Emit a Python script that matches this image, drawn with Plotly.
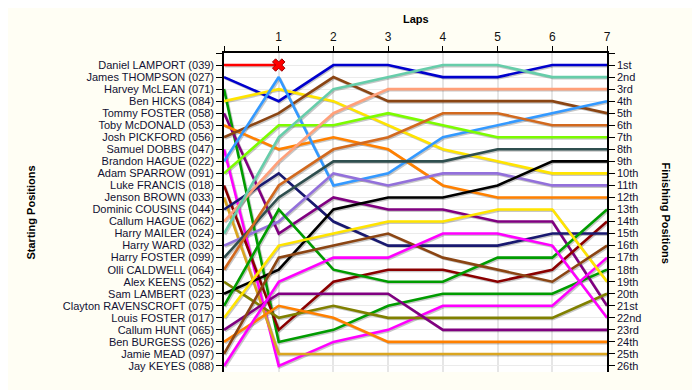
import plotly.graph_objects as go

laps = [0, 1, 2, 3, 4, 5, 6, 7]
lap_labels = ["", "1", "2", "3", "4", "5", "6", "7"]

drivers = [
    "Daniel LAMPORT (039)", "James THOMPSON (027)", "Harvey McLEAN (071)", "Ben HICKS (084)",
    "Tommy FOSTER (058)", "Toby McDONALD (053)", "Josh PICKFORD (056)", "Samuel DOBBS (047)",
    "Brandon HAGUE (022)", "Adam SPARROW (091)", "Luke FRANCIS (018)", "Jenson BROWN (033)",
    "Dominic COUSINS (044)", "Callum HAGUE (062)", "Harry MAILER (024)", "Harry WARD (032)",
    "Harry FOSTER (099)", "Olli CALDWELL (064)", "Alex KEENS (052)", "Sam LAMBERT (023)",
    "Clayton RAVENSCROFT (075)", "Louis FOSTER (017)", "Callum HUNT (065)", "Ben BURGESS (026)",
    "Jamie MEAD (097)", "Jay KEYES (088)",
]

finish_labels = [
    "1st", "2nd", "3rd", "4th", "5th", "6th", "7th", "8th", "9th", "10th", "11th", "12th", "13th",
    "14th", "15th", "16th", "17th", "18th", "19th", "20th", "21st", "22nd", "23rd", "24th", "25th", "26th",
]

# positions per lap (lap 0 .. lap 7); None = retired
p_lamport = [1, 1, None, None, None, None, None, None]
p_thompson = [2, 4, 1, 1, 2, 2, 1, 1]
p_mclean = [3, 24, 23, 21, 20, 20, 20, 18]
p_hicks = [4, 3, 4, 6, 8, 9, 10, 10]
p_tfoster = [5, 15, 12, 13, 13, 14, 14, 21]
p_mcdonald = [6, 8, 7, 8, 11, 12, 12, 12]
p_pickford = [7, 5, 2, 4, 4, 4, 4, 5]
p_dobbs = [8, 26, 24, 23, 21, 21, 21, 17]
p_bhague = [9, 2, 11, 10, 7, 6, 5, 4]
p_sparrow = [10, 6, 6, 5, 6, 7, 7, 7]
p_francis = [11, 23, 19, 18, 18, 19, 18, 14]
p_brown = [12, 25, 25, 25, 25, 25, 25, 25]
p_cousins = [13, 10, 14, 16, 16, 16, 15, 15]
p_chague = [14, 9, 5, 3, 3, 3, 3, 3]
p_mailer = [15, 7, 3, 2, 1, 1, 2, 2]
p_ward = [16, 14, 10, 11, 10, 10, 11, 11]
p_hfoster = [17, 12, 9, 9, 9, 8, 8, 8]
p_caldwell = [18, 11, 8, 7, 5, 5, 6, 6]
p_keens = [19, 22, 21, 22, 22, 22, 22, 20]
p_lambert = [20, 18, 13, 12, 12, 11, 9, 9]
p_ravenscroft = [21, 13, 18, 19, 19, 17, 17, 13]
p_lfoster = [22, 16, 15, 14, 14, 13, 13, 19]
p_hunt = [23, 20, 20, 20, 23, 23, 23, 23]
p_burgess = [24, 21, 22, 24, 24, 24, 24, 24]
p_mead = [25, 17, 16, 15, 17, 18, 19, 16]
p_keyes = [26, 19, 17, 17, 15, 15, 16, 22]

positions = [
    p_lamport, p_thompson, p_mclean, p_hicks, p_tfoster, p_mcdonald, p_pickford, p_dobbs,
    p_bhague, p_sparrow, p_francis, p_brown, p_cousins, p_chague, p_mailer, p_ward,
    p_hfoster, p_caldwell, p_keens, p_lambert, p_ravenscroft, p_lfoster, p_hunt, p_burgess,
    p_mead, p_keyes,
]

colors = [
    "#FF0000", "#0000CD", "#009C00", "#FFE400", "#800080", "#FF8000", "#8B4513", "#FF00FF",
    "#3399FF", "#7CFC00", "#8B0000", "#DAA520", "#191970", "#FFA07A", "#66CDAA", "#9370DB",
    "#2F4F4F", "#D2691E", "#808000", "#000000", "#009C00", "#FFE400", "#800080", "#FF8000",
    "#8B4513", "#FF00FF",
]

retired_lap = [1]
retired_pos = [1]

n = len(drivers)
# page body adds an 8px offset; margins compensate
L, T, PW, PH = 216, 45, 383, 319
x_px = 7 / PW           # one pixel in lap units
y_px = (n + 0.5) / PH   # one pixel in position units

fig = go.Figure()

# soft drop shadows beneath each line
for pos in positions:
    fig.add_trace(go.Scatter(
        x=[v + 1.2 * x_px for v in laps],
        y=[None if p is None else p + 1.2 * y_px for p in pos],
        mode="lines", line=dict(color="rgba(0,0,0,0.22)", width=2.6),
        showlegend=False, hoverinfo="skip",
    ))

for name, pos, col in zip(drivers, positions, colors):
    fig.add_trace(go.Scatter(
        x=laps, y=pos, mode="lines", name=name,
        line=dict(color=col, width=2.6), connectgaps=False, showlegend=False,
    ))

fig.add_trace(go.Scatter(
    x=retired_lap, y=retired_pos, mode="markers", showlegend=False,
    marker=dict(symbol="x", size=11, color="#FF0000", line=dict(color="#990000", width=1)),
))

# invisible trace to carry the right-hand axis
fig.add_trace(go.Scatter(x=[0], y=[1], yaxis="y2", mode="markers",
                         marker=dict(opacity=0), showlegend=False, hoverinfo="skip"))

tick_font = dict(family="Liberation Sans, Arial, sans-serif", size=11, color="#111133")

fig.update_layout(
    width=700, height=390,
    margin=dict(l=L, r=700 - L - PW, t=T, b=390 - T - PH),
    paper_bgcolor="#FFFEF4",
    plot_bgcolor="#FFFFFF",
    showlegend=False,
    xaxis=dict(
        side="top", range=[0, 7], tickvals=laps, ticktext=lap_labels,
        ticks="outside", ticklen=5, tickcolor="black", showline=True, linecolor="black",
        linewidth=1.5, showgrid=True, gridcolor="#E6E6E6", gridwidth=1.5, zeroline=False,
        tickfont=dict(family="Liberation Sans, Arial, sans-serif", size=12, color="#111111"),
    ),
    yaxis=dict(
        range=[n + 0.5, 0], tickvals=list(range(0, n + 1)), ticktext=[""] + drivers,
        ticks="outside", ticklen=6, tickcolor="black", showline=True, linecolor="black",
        linewidth=1.5, showgrid=True, gridcolor="#EBEBEB", gridwidth=1, zeroline=False,
        tickfont=tick_font,
    ),
    yaxis2=dict(
        overlaying="y", side="right", range=[n + 0.5, 0],
        tickvals=list(range(0, n + 1)), ticktext=[""] + finish_labels,
        ticks="outside", ticklen=6, tickcolor="black", showline=True, linecolor="black",
        linewidth=1.5, showgrid=False, zeroline=False, tickfont=tick_font,
    ),
    annotations=[
        dict(text="<b>Laps</b>", x=0.5, y=1 + (T - 11) / PH, xref="paper", yref="paper",
             showarrow=False, xanchor="center", yanchor="middle",
             font=dict(family="Liberation Sans, Arial, sans-serif", size=11, color="black")),
        dict(text="<b>Starting Positions</b>", x=(22 - L) / PW, y=0.5, xref="paper", yref="paper",
             showarrow=False, textangle=-90, xanchor="center", yanchor="middle",
             font=dict(family="Liberation Sans, Arial, sans-serif", size=11, color="black")),
        dict(text="<b>Finishing Positions</b>", x=(658 - L) / PW, y=0.5, xref="paper", yref="paper",
             showarrow=False, textangle=90, xanchor="center", yanchor="middle",
             font=dict(family="Liberation Sans, Arial, sans-serif", size=11, color="black")),
    ],
)

fig.write_html("out.html")
